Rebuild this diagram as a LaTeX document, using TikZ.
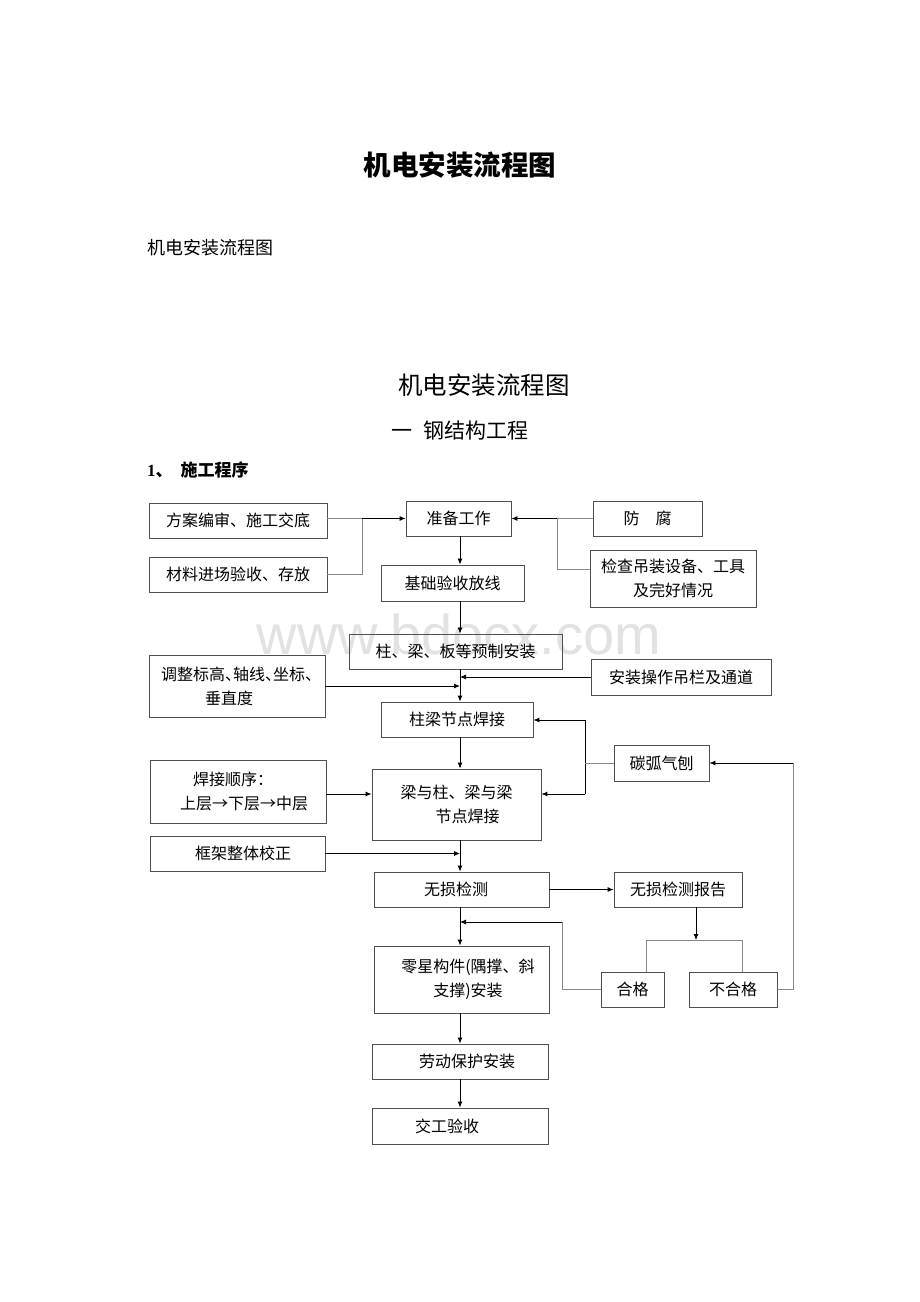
\documentclass[tikz,border=0pt]{standalone}
\usepackage{fontspec}
\setmainfont{Liberation Serif}
\newfontfamily\cjk{Noto Sans CJK SC}
\newfontfamily\wmfont{Liberation Sans}
\usetikzlibrary{arrows.meta}
\definecolor{boxgray}{RGB}{80,80,80}
\definecolor{linegray}{RGB}{135,135,135}
\definecolor{wmgray}{RGB}{226,226,226}
\begin{document}
\begin{tikzpicture}[x=1pt,y=-1pt,
  box/.style={draw=boxgray,line width=0.8pt,inner sep=0pt,align=center,font=\cjk\fontsize{16}{24}\selectfont},
  gl/.style={draw=linegray,line width=0.8pt},
  bl/.style={draw=black,line width=0.9pt},
  ar/.style={bl,-{Latex[length=6pt,width=5pt]}},
  txt/.style={inner sep=0pt}]
\fill[white] (0,0) rectangle (920,1302);
\useasboundingbox (0,0) rectangle (920,1302);

% watermark
\node[txt,font=\wmfont\fontsize{56}{56}\selectfont,text=wmgray] (wm) at (459,634) {www.bdocx.com};

% titles
\node[txt,font=\cjk\bfseries\fontsize{27.5}{30}\selectfont] (t1) at (460,165) {机电安装流程图};
\node[txt,anchor=west,font=\cjk\fontsize{18}{20}\selectfont] (t2) at (147,248) {机电安装流程图};
\node[txt,font=\cjk\fontsize{24.5}{26}\selectfont] (t3) at (484,385) {机电安装流程图};
\node[txt,font=\cjk\fontsize{21}{24}\selectfont] (t4) at (460,431) {一\hspace{11pt}钢结构工程};
\node[txt,anchor=west,font=\bfseries\fontsize{17}{18}\selectfont] (t5) at (147,470) {1{\cjk\bfseries 、}\hspace{8pt}{\cjk\bfseries 施工程序}};

% boxes
\node[box,minimum width=178pt,minimum height=35pt] (fa) at (238,520.5) {方案编审、施工交底};
\node[box,minimum width=178pt,minimum height=35pt] (cl) at (238,574.5) {材料进场验收、存放};
\node[box,minimum width=105pt,minimum height=35pt] (zb) at (458.5,518.5) {准备工作};
\node[box,minimum width=109pt,minimum height=35pt] (ff) at (647.5,518.5) {防\hspace{16pt}腐};
\node[box,minimum width=166pt,minimum height=57pt] (jc) at (673,578.5) {检查吊装设备、工具\\及完好情况};
\node[box,minimum width=143pt,minimum height=36pt] (jx) at (452.5,583) {基础验收放线};
\node[box,minimum width=213pt,minimum height=35pt] (zl) at (455.5,651.5) {柱、梁、板等预制安装};
\node[box,minimum width=176pt,minimum height=62pt] (tz) at (237,686) {调整标高\makebox[8pt][l]{、}轴线\makebox[8pt][l]{、}坐标\makebox[8pt][l]{、}\\\mbox{垂直度\kern16pt}};
\node[box,minimum width=180pt,minimum height=36pt] (az) at (681,677) {安装操作吊栏及通道};
\node[box,minimum width=152pt,minimum height=35pt] (jd) at (457,719.5) {柱梁节点焊接};
\node[box,minimum width=95pt,minimum height=36pt] (th) at (661.5,763) {碳弧气刨};
\node[box,minimum width=176pt,minimum height=63pt] (hj) at (238,791.5) {\mbox{焊接顺序：\kern10pt}\\\mbox{\kern12pt 上层→下层→中层}};
\node[box,minimum width=169pt,minimum height=71pt] (lz) at (456.5,804.5) {梁与柱、梁与梁\\\mbox{\kern22pt 节点焊接}};
\node[box,minimum width=175pt,minimum height=35pt] (kj) at (237.5,853.5) {\mbox{\kern11pt 框架整体校正}};
\node[box,minimum width=175pt,minimum height=35pt] (ws) at (461.5,889.5) {\mbox{无损检测\kern11pt}};
\node[box,minimum width=128pt,minimum height=35pt] (bg) at (678,889.5) {无损检测报告};
\node[box,minimum width=175pt,minimum height=67pt] (lx) at (461.5,979.5) {\mbox{\kern13pt 零星构件(隅撑、斜}\\\mbox{\kern13pt 支撑)安装}};
\node[box,minimum width=63pt,minimum height=35pt] (hg) at (632.5,989.5) {合格};
\node[box,minimum width=88pt,minimum height=35pt] (bh) at (733,989.5) {不合格};
\node[box,minimum width=176pt,minimum height=35pt] (ld) at (460,1061.5) {\mbox{\kern14pt 劳动保护安装}};
\node[box,minimum width=176pt,minimum height=36pt] (jg) at (460,1126) {\mbox{交工验收\kern26pt}};

% junctions
\coordinate (mx) at (460,0);
\coordinate (j1) at (362,518.5);
\coordinate (j2) at (557,518.5);
\coordinate (j2b) at (557,569);
\coordinate (rx) at (585,720);
\coordinate (r2) at (585,794);
\coordinate (h1) at (562,922);
\coordinate (b1) at (696,940);
\coordinate (bl) at (646,940);
\coordinate (br) at (742,940);
\coordinate (u1) at (793,763);

% connectors
\draw[gl] (fa.east |- j1) -- (j1);
\draw[ar] (j1) -- (zb.west);
\draw[gl] (cl.east) -- (cl.east -| j1) -- (j1);
\draw[gl] (ff.west) -- (j2);
\draw[ar] (j2) -- (zb.east);
\draw[gl] (jc.west |- j2b) -- (j2b) -- (j2);
\draw[ar] (zb.south -| mx) -- (jx.north -| mx);
\draw[ar] (jx.south -| mx) -- (zl.north -| mx);
\draw[ar] (zl.south -| mx) -- (jd.north -| mx);
\draw[ar] (az.west) -- (az.west -| mx);
\draw[ar] (tz.east) -- (tz.east -| mx);
\draw[ar] (jd.south -| mx) -- (lz.north -| mx);
\draw[bl] (rx) -- (r2);
\draw[ar] (rx) -- (jd.east |- rx);
\draw[ar] (r2) -- (lz.east |- r2);
\draw[gl] (th.west) -- (th.west -| rx);
\draw[ar] (hj.east |- r2) -- (lz.west |- r2);
\draw[ar] (lz.south -| mx) -- (ws.north -| mx);
\draw[ar] (kj.east) -- (kj.east -| mx);
\draw[ar] (ws.east) -- (bg.west);
\draw[ar] (ws.south -| mx) -- (lx.north -| mx);
\draw[gl] (hg.west) -- (hg.west -| h1) -- (h1);
\draw[ar] (h1) -- (h1 -| mx);
\draw[ar] (bg.south -| b1) -- (b1);
\draw[gl] (hg.north -| bl) -- (bl) -- (br) -- (bh.north -| br);
\draw[gl] (bh.east) -- (bh.east -| u1) -- (u1);
\draw[ar] (u1) -- (th.east);
\draw[ar] (lx.south -| mx) -- (ld.north -| mx);
\draw[ar] (ld.south -| mx) -- (jg.north -| mx);
\end{tikzpicture}
\end{document}
